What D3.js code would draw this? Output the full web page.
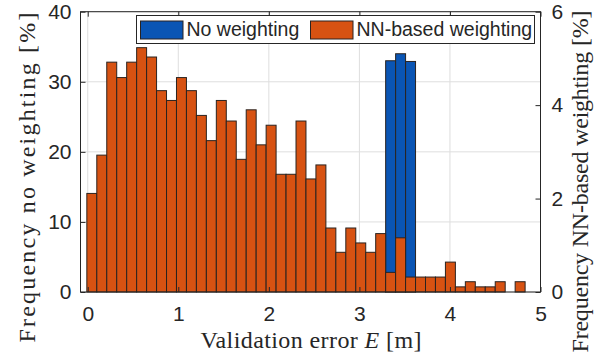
<!DOCTYPE html>
<html>
<head>
<meta charset="utf-8">
<script src="https://cdn.jsdelivr.net/npm/d3@7"></script>
<style>
  body { margin: 0; background: #fff; }
  .tick text { font-family: "Liberation Sans", Arial, sans-serif; font-size: 21px; fill: #262626; }
  .tick line { stroke: #262626; }
  .label { font-family: "Liberation Serif", "Times New Roman", serif; font-size: 24px; fill: #262626; }
</style>
</head>
<body>
<svg id="chart" width="611" height="358"></svg>
<script>
"use strict"

// histogram bin edges (m)
const binEdges = [-0.01, 0.10, 0.21, 0.32, 0.43, 0.54, 0.65, 0.76, 0.87, 0.98,
    1.09, 1.20, 1.31, 1.42, 1.53, 1.64, 1.75, 1.86, 1.97, 2.08,
    2.19, 2.30, 2.41, 2.52, 2.63, 2.74, 2.85, 2.96, 3.07, 3.18,
    3.29, 3.40, 3.51, 3.62, 3.73, 3.84, 3.95, 4.06, 4.17, 4.28,
    4.39, 4.50, 4.61, 4.72, 4.83];

// frequency without weighting [%] (left axis)
const noWeighting = [0, 0, 0, 0, 0, 0, 0, 0, 0, 0,
    0, 0, 0, 0, 0, 0, 0, 0, 0, 0,
    0, 0, 0, 0, 0, 0, 0, 0, 0, 0,
    33.0, 34.0, 32.9, 0, 0, 0, 0, 0, 0, 0,
    0, 0, 0, 0];

// frequency with NN-based weighting [%] (right axis)
const nnWeighting = [2.11, 2.93, 4.92, 4.59, 4.92, 5.23, 5.03, 4.31, 4.10, 4.59,
    4.31, 3.78, 3.24, 4.10, 3.66, 2.84, 3.90, 3.15, 3.57, 2.52,
    2.52, 3.66, 2.42, 2.72, 1.37, 0.85, 1.37, 1.05, 0.85, 1.25,
    0.42, 1.16, 0.32, 0.32, 0.32, 0.32, 0.64, 0.11, 0.22, 0.11,
    0.11, 0.22, 0, 0.22];

const xTicks = [0, 1, 2, 3, 4, 5];
const yLeftTicks = [0, 10, 20, 30, 40];
const yRightTicks = [0, 2, 4, 6];
const seriesNames = ["No weighting", "NN-based weighting"];
const seriesColors = ["#0a55b4", "#d75212"];

//---------------------------LAYOUT----------------------------//
const plot = { left: 80.5, right: 540.5, top: 11.7, bottom: 292 };
const svg = d3.select("#chart");
const fmt = d3.format("d");

//---------------------------SCALES----------------------------//
const x = d3.scaleLinear().domain([-0.08, 5]).range([plot.left, plot.right]);
const yL = d3.scaleLinear().domain([0, 40]).range([plot.bottom, plot.top]);
const yR = d3.scaleLinear().domain([0, 6]).range([plot.bottom, plot.top]);

//----------------------------GRID-----------------------------//
const grid = svg.append("g").attr("stroke", "#dedede").attr("stroke-width", 1);
grid.selectAll("line.v").data(xTicks).join("line")
    .attr("x1", d => x(d)).attr("x2", d => x(d))
    .attr("y1", plot.top).attr("y2", plot.bottom);
grid.selectAll("line.h").data(yLeftTicks).join("line")
    .attr("x1", plot.left).attr("x2", plot.right)
    .attr("y1", d => yL(d)).attr("y2", d => yL(d));

//----------------------------BARS-----------------------------//
const drawBars = (values, yScale, color) => {
    svg.append("g").selectAll("rect")
        .data(values.map((v, i) => ({ x0: binEdges[i], x1: binEdges[i + 1], v })).filter(d => d.v > 0))
        .join("rect")
        .attr("x", d => x(d.x0))
        .attr("width", d => x(d.x1) - x(d.x0))
        .attr("y", d => yScale(d.v))
        .attr("height", d => yScale(0) - yScale(d.v))
        .attr("fill", color)
        .attr("stroke", "#2a2320")
        .attr("stroke-width", 1);
};
drawBars(noWeighting, yL, seriesColors[0]);
drawBars(nnWeighting, yR, seriesColors[1]);

//----------------------------AXES-----------------------------//
svg.append("g")
    .attr("transform", `translate(0,${plot.bottom})`)
    .call(d3.axisBottom(x).tickValues(xTicks).tickFormat(fmt).tickSizeInner(-5).tickSizeOuter(0).tickPadding(14))
    .call(g => g.select(".domain").remove());

svg.append("g")
    .attr("transform", `translate(0,${plot.top})`)
    .call(d3.axisTop(x).tickValues(xTicks).tickSizeInner(-5).tickSizeOuter(0).tickFormat(""))
    .call(g => g.select(".domain").remove());

svg.append("g")
    .attr("transform", `translate(${plot.left},0)`)
    .call(d3.axisLeft(yL).tickValues(yLeftTicks).tickFormat(fmt).tickSizeInner(-5).tickSizeOuter(0).tickPadding(9))
    .call(g => g.select(".domain").remove());

svg.append("g")
    .attr("transform", `translate(${plot.right},0)`)
    .call(d3.axisRight(yR).tickValues(yRightTicks).tickFormat(fmt).tickSizeInner(-5).tickSizeOuter(0).tickPadding(11))
    .call(g => g.select(".domain").remove());

svg.append("rect")
    .attr("x", plot.left).attr("y", plot.top)
    .attr("width", plot.right - plot.left).attr("height", plot.bottom - plot.top)
    .attr("fill", "none").attr("stroke", "#262626").attr("stroke-width", 1);

//---------------------------LABELS----------------------------//
const xLabel = svg.append("text").attr("class", "label")
    .attr("x", 311).attr("y", 348)
    .attr("text-anchor", "middle")
    .attr("textLength", 221).attr("lengthAdjust", "spacing");
xLabel.append("tspan").text("Validation error ");
xLabel.append("tspan").attr("font-style", "italic").text("E");
xLabel.append("tspan").text(" [m]");

svg.append("text").attr("class", "label")
    .attr("transform", "translate(35,177.5) rotate(-90)")
    .attr("text-anchor", "middle")
    .attr("textLength", 330).attr("lengthAdjust", "spacing")
    .text("Frequency no weighting [%]");

svg.append("text").attr("class", "label")
    .attr("transform", "translate(588,181.5) rotate(-90)")
    .attr("text-anchor", "middle")
    .attr("textLength", 342).attr("lengthAdjust", "spacing")
    .text("Frequency NN-based weighting [%]");

//---------------------------LEGEND----------------------------//
const legend = svg.append("g");
legend.append("rect")
    .attr("x", 136.5).attr("y", 15.5).attr("width", 398).attr("height", 28)
    .attr("fill", "#fff").attr("stroke", "#262626").attr("stroke-width", 1);

const legendX = [140.5, 310.5];
seriesNames.forEach((name, i) => {
    legend.append("rect")
        .attr("x", legendX[i]).attr("y", 21)
        .attr("width", 42.5).attr("height", 18)
        .attr("fill", seriesColors[i]).attr("stroke", "#2a2320").attr("stroke-width", 1);
    legend.append("text")
        .attr("x", legendX[i] + 46).attr("y", 36)
        .style("font-family", "'Liberation Sans', Arial, sans-serif")
        .style("font-size", "19.5px").style("fill", "#262626")
        .text(name);
});
</script>
</body>
</html>
